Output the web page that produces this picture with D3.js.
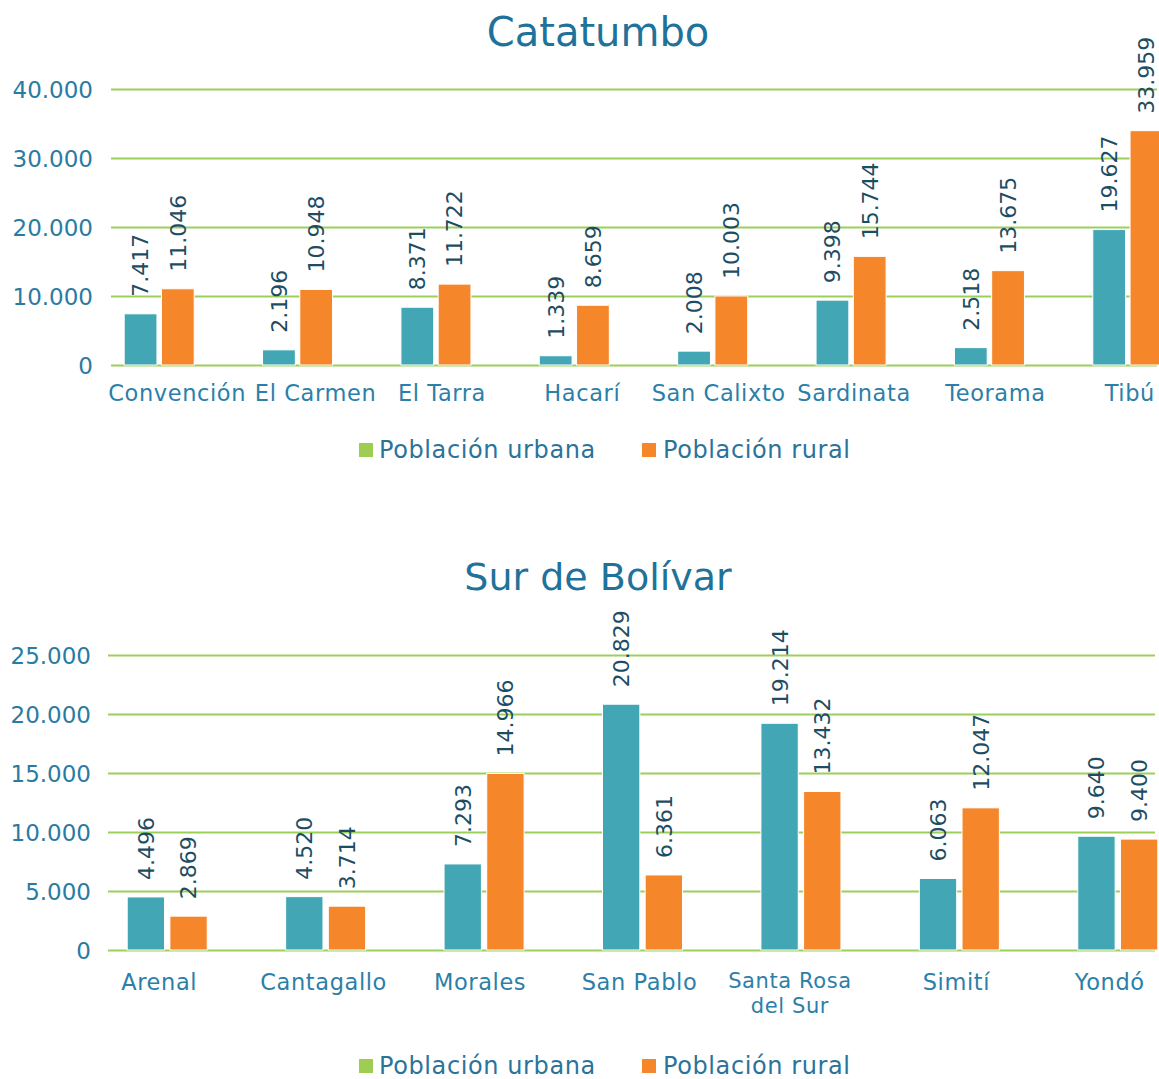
<!DOCTYPE html>
<html>
<head>
<meta charset="utf-8">
<script src="https://cdn.jsdelivr.net/npm/d3@7"></script>
<style>
  html, body { margin: 0; padding: 0; background: #ffffff; }
  svg { display: block; }
  text { font-family: "Century Gothic", "URW Gothic", "DejaVu Sans", sans-serif; }
</style>
</head>
<body>
<svg id="chart" width="1159" height="1079"></svg>
<script>
// ---- Data ----
const seriesNames = ["Población urbana", "Población rural"];

const catatumboCategories = ["Convención", "El Carmen", "El Tarra", "Hacarí", "San Calixto", "Sardinata", "Teorama", "Tibú"];
const catatumboUrbana = [7417, 2196, 8371, 1339, 2008, 9398, 2518, 19627];
const catatumboRural = [11046, 10948, 11722, 8659, 10003, 15744, 13675, 33959];
const catatumboTicks = [0, 10000, 20000, 30000, 40000];

const bolivarCategories = ["Arenal", "Cantagallo", "Morales", "San Pablo", "Santa Rosa del Sur", "Simití", "Yondó"];
const bolivarUrbana = [4496, 4520, 7293, 20829, 19214, 6063, 9640];
const bolivarRural = [2869, 3714, 14966, 6361, 13432, 12047, 9400];
const bolivarTicks = [0, 5000, 10000, 15000, 20000, 25000];

// ---- Styles ----
const COLORS = {
  urbana: "#42a6b4",
  rural: "#f5862a",
  legendUrbana: "#9fcd52",
  grid: "#9ccf5a",
  title: "#1f729a",
  tick: "#2a7ba2",
  label: "#2b7fa8",
  value: "#1d4d63",
  legend: "#2a739b"
};

const locale = d3.formatLocale({ decimal: ",", thousands: ".", grouping: [3], currency: ["$", ""] });
const fmt = locale.format(",d");

const svg = d3.select("#chart");

function drawChart(cfg) {
  const g = svg.append("g");
  const data = cfg.categories.map((c, i) => ({ cat: c, values: [cfg.urbana[i], cfg.rural[i]] }));

  const x0 = d3.scaleBand().domain(cfg.categories).range(cfg.xRange)
    .paddingInner(cfg.pInner).paddingOuter(cfg.pInner / 2);
  const x1 = d3.scaleBand().domain([0, 1]).range([0, x0.bandwidth()]).paddingInner(cfg.pPair);
  const y = d3.scaleLinear().domain([0, cfg.ticks[cfg.ticks.length - 1]]).range(cfg.yRange);

  // title
  g.append("text")
    .attr("x", 598).attr("y", cfg.titleY)
    .attr("text-anchor", "middle")
    .attr("font-size", cfg.titleSize)
    .attr("fill", COLORS.title)
    .text(cfg.title);

  // y axis (gridlines + labels) via d3.axisLeft
  const yAxis = d3.axisLeft(y).tickValues(cfg.ticks).tickFormat(d => d === 0 ? "0" : fmt(d))
    .tickSize(-(cfg.gridRight - cfg.gridLeft)).tickPadding(cfg.gridLeft - cfg.tickRight);
  const ya = g.append("g").attr("transform", `translate(${cfg.gridLeft},0)`).call(yAxis);
  ya.select(".domain").remove();
  ya.selectAll(".tick line").attr("stroke", COLORS.grid).attr("stroke-width", 2.2);
  ya.selectAll(".tick text")
    .attr("fill", COLORS.tick)
    .attr("font-size", 23)
    .attr("font-family", null)
    .attr("dy", "0.35em");

  // bars
  const groups = g.selectAll(".grp").data(data).enter().append("g")
    .attr("transform", d => `translate(${x0(d.cat)},0)`);
  groups.selectAll("rect").data(d => d.values).enter().append("rect")
    .attr("x", (v, i) => x1(i))
    .attr("width", x1.bandwidth())
    .attr("y", v => y(v))
    .attr("height", v => y(0) - y(v))
    .attr("fill", (v, i) => i === 0 ? COLORS.urbana : COLORS.rural)
    .attr("stroke", "#ffffff")
    .attr("stroke-width", 1);

  // value labels rotated
  groups.selectAll("text.val").data(d => d.values).enter().append("text")
    .attr("class", "val")
    .attr("transform", (v, i) => `translate(${x1(i) + x1.bandwidth() / 2},${y(v) - 17}) rotate(-90)`)
    .attr("dy", "0.36em")
    .attr("text-anchor", "start")
    .attr("font-size", 22)
    .attr("fill", COLORS.value)
    .text(v => fmt(v));

  // category labels
  data.forEach((d, i) => {
    const lines = cfg.wrap[d.cat] || [d.cat];
    const multi = lines.length > 1;
    lines.forEach((ln, k) => {
      g.append("text")
        .attr("class", "cat")
        .attr("text-anchor", "middle")
        .attr("font-size", multi ? 21 : 22.5)
        .attr("letter-spacing", 0.6)
        .attr("fill", COLORS.label)
        .attr("x", x0(d.cat) + x0.bandwidth() / 2 + (cfg.labelDx[i] || 0))
        .attr("y", multi ? cfg.labelY - 2 + k * 25 : cfg.labelY)
        .text(ln);
    });
  });

  // legend
  const lg = g.append("g");
  const items = [
    { name: seriesNames[0], color: COLORS.legendUrbana, x: 359, tx: 379 },
    { name: seriesNames[1], color: COLORS.rural, x: 642, tx: 663 }
  ];
  items.forEach(it => {
    lg.append("rect").attr("x", it.x).attr("y", cfg.legendY - 15).attr("width", 14).attr("height", 14).attr("fill", it.color);
    lg.append("text").attr("x", it.tx).attr("y", cfg.legendY).attr("font-size", 24)
      .attr("letter-spacing", 0.6).attr("fill", COLORS.legend).text(it.name);
  });
}

drawChart({
  title: "Catatumbo", titleY: 46, titleSize: 40,
  categories: catatumboCategories, urbana: catatumboUrbana, rural: catatumboRural, ticks: catatumboTicks,
  xRange: [90, 1197], pInner: 0.494, pPair: 0.12,
  yRange: [365, 89], gridLeft: 111, gridRight: 1157, tickRight: 93,
  labelY: 401, labelDx: [18, 18, 6, 8, 6, 3, 6, 2], wrap: {},
  legendY: 458
});

drawChart({
  title: "Sur de Bolívar", titleY: 590, titleSize: 38,
  categories: bolivarCategories, urbana: bolivarUrbana, rural: bolivarRural, ticks: bolivarTicks,
  xRange: [88, 1197], pInner: 0.495, pPair: 0.125,
  yRange: [950, 655], gridLeft: 108, gridRight: 1155, tickRight: 91,
  labelY: 990, labelDx: [-8, -2, -4, -3, -11, -3, -8],
  wrap: { "Santa Rosa del Sur": ["Santa Rosa", "del Sur"] },
  legendY: 1074
});
</script>
</body>
</html>
